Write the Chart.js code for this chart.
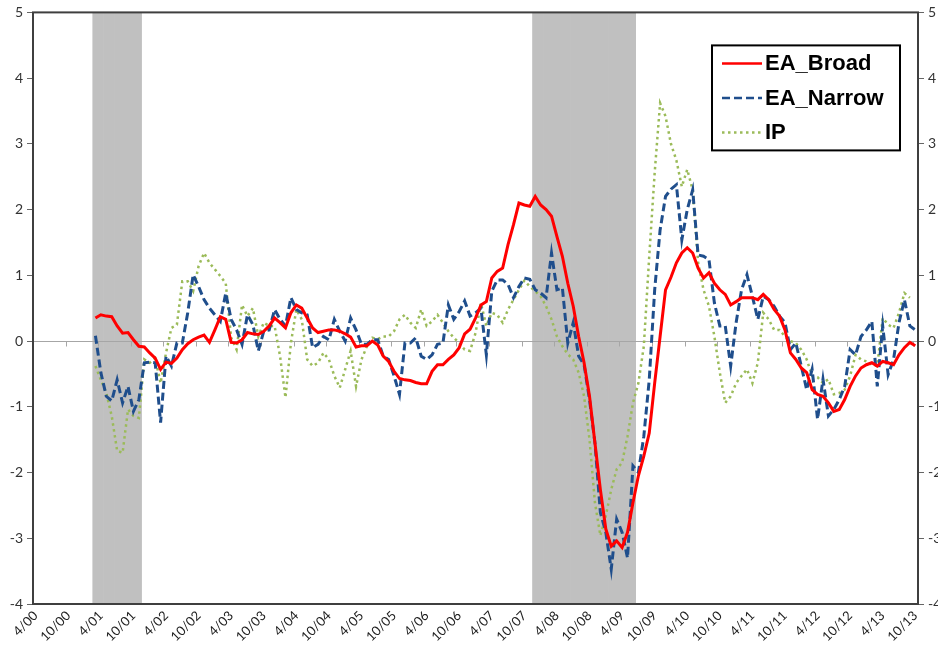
<!DOCTYPE html>
<html>
<head>
<meta charset="utf-8">
<title>EA_Broad, EA_Narrow and IP</title>
<script src="https://cdn.jsdelivr.net/npm/chart.js@4.4.1/dist/chart.umd.min.js"></script>
<style>
  html, body { margin: 0; padding: 0; background: #fff; }
  #wrap { width: 938px; height: 650px; position: relative; }
</style>
</head>
<body>
<div id="wrap"><canvas id="chart"></canvas></div>
<script>
// Data
const firstMonth = [2000, 4];   // April 2000
const monthCount = 163;         // through October 2013
const seriesStart = 11;         // all three series begin in March 2001
const labelEvery = 6;
const yMin = -4, yMax = 5;

const eaBroad = [
  0.35, 0.40, 0.38, 0.37, 0.23, 0.12, 0.13, 0.02, -0.08, -0.09,
  -0.18, -0.26, -0.43, -0.32, -0.34, -0.26, -0.13, -0.04, 0.02, 0.06,
  0.09, -0.02, 0.17, 0.37, 0.33, -0.02, -0.03, 0.02, 0.13, 0.11,
  0.10, 0.15, 0.23, 0.35, 0.28, 0.20, 0.43, 0.55, 0.50, 0.35,
  0.20, 0.13, 0.15, 0.17, 0.17, 0.15, 0.11, 0.06, -0.09, -0.07,
  -0.07, 0.00, -0.06, -0.23, -0.31, -0.46, -0.57, -0.59, -0.60, -0.63,
  -0.65, -0.65, -0.46, -0.36, -0.36, -0.28, -0.21, -0.10, 0.11, 0.18,
  0.35, 0.55, 0.60, 0.96, 1.06, 1.11, 1.47, 1.77, 2.10, 2.07,
  2.05, 2.20, 2.07, 2.00, 1.90, 1.59, 1.29, 0.88, 0.53, 0.07,
  -0.33, -0.84, -1.55, -2.26, -2.86, -3.12, -3.04, -3.14, -2.91, -2.46,
  -2.05, -1.75, -1.40, -0.64, 0.07, 0.78, 0.97, 1.19, 1.34, 1.42,
  1.34, 1.11, 0.96, 1.04, 0.88, 0.78, 0.71, 0.55, 0.60, 0.66,
  0.66, 0.66, 0.63, 0.71, 0.63, 0.48, 0.38, 0.17, -0.18, -0.28,
  -0.41, -0.48, -0.74, -0.81, -0.84, -0.94, -1.07, -1.04, -0.89, -0.69,
  -0.53, -0.41, -0.36, -0.33, -0.38, -0.31, -0.33, -0.36, -0.21, -0.10,
  -0.02, -0.07
];

const eaNarrow = [
  0.08, -0.48, -0.84, -0.91, -0.59, -0.94, -0.69, -1.07, -0.89, -0.33,
  -0.32, -0.33, -1.24, -0.23, -0.38, -0.03, -0.03, 0.43, 1.01, 0.83,
  0.63, 0.50, 0.40, 0.30, 0.73, 0.33, 0.17, -0.05, 0.40, 0.25,
  -0.15, 0.15, 0.17, 0.48, 0.33, 0.23, 0.66, 0.48, 0.43, 0.40,
  -0.10, -0.05, 0.07, 0.02, 0.33, 0.15, 0.00, 0.35, 0.17, -0.05,
  -0.05, 0.02, 0.02, -0.23, -0.28, -0.53, -0.81, -0.03, -0.03, 0.05,
  -0.23, -0.28, -0.21, -0.05, -0.03, 0.55, 0.33, 0.45, 0.61, 0.38,
  0.43, 0.50, -0.21, 0.76, 0.93, 0.93, 0.86, 0.66, 0.83, 0.96,
  0.94, 0.78, 0.73, 0.66, 1.34, 0.78, 0.81, -0.03, 0.28, -0.23,
  -0.36, -0.89, -1.55, -2.61, -2.91, -3.47, -2.71, -2.91, -3.30, -1.90,
  -2.00, -1.45, -0.59, 0.78, 1.69, 2.20, 2.31, 2.38, 1.54, 2.00,
  2.30, 1.31, 1.29, 1.24, 0.58, 0.23, 0.23, -0.38, 0.28, 0.78,
  1.01, 0.68, 0.33, 0.68, 0.63, 0.53, 0.38, 0.28, -0.13, -0.03,
  -0.38, -0.74, -0.43, -1.19, -0.58, -1.14, -1.04, -0.89, -0.69, -0.13,
  -0.21, 0.07, 0.17, 0.30, -0.69, 0.23, -0.51, -0.28, 0.28, 0.63,
  0.23, 0.17
];

const ip = [
  -0.38, -0.59, -0.79, -1.14, -1.67, -1.70, -1.04, -1.14, -1.17, -0.28,
  -0.33, -0.26, -0.64, -0.18, 0.20, 0.25, 0.91, 0.91, 0.76, 1.14,
  1.34, 1.19, 1.09, 0.99, 0.88, 0.05, -0.13, 0.55, 0.38, 0.50,
  0.07, 0.28, 0.23, 0.23, -0.23, -0.86, -0.03, 0.48, 0.33, -0.28,
  -0.38, -0.33, -0.18, -0.28, -0.53, -0.71, -0.43, -0.15, -0.69, -0.28,
  -0.08, 0.05, 0.03, 0.07, 0.07, 0.15, 0.33, 0.40, 0.28, 0.20,
  0.48, 0.23, 0.30, 0.40, 0.28, 0.15, 0.05, -0.03, -0.13, -0.15,
  0.12, 0.58, 0.23, 0.43, 0.40, 0.28, 0.48, 0.63, 0.78, 0.92,
  0.83, 0.76, 0.68, 0.53, 0.33, 0.07, -0.08, -0.20, -0.28, -0.48,
  -0.84, -1.50, -2.46, -2.96, -2.66, -2.26, -1.95, -1.85, -1.45, -0.94,
  -0.64, -0.08, 1.29, 2.56, 3.62, 3.42, 3.00, 2.75, 2.35, 2.61,
  2.30, 1.19, 0.78, 0.53, 0.07, -0.48, -0.94, -0.84, -0.64, -0.53,
  -0.43, -0.64, -0.33, 0.43, 0.33, 0.17, 0.17, 0.07, 0.00, -0.03,
  -0.13, -0.28, -0.53, -0.55, -0.64, -0.58, -0.81, -0.79, -0.74, -0.53,
  -0.21, -0.28, -0.31, -0.36, -0.38, 0.35, 0.25, 0.20, 0.43, 0.73,
  0.66
];

// shaded recessions, first and last month
const recessions = [['3/01', '11/01'], ['12/07', '6/09']];

// Month labels like "4/00"
const months = [];
for (let k = 0; k < monthCount; k++) {
  const n = firstMonth[1] - 1 + k;
  const year = firstMonth[0] + Math.floor(n / 12);
  months.push((n % 12 + 1) + '/' + String(year % 100).padStart(2, '0'));
}

function alignToMonths(values) {
  return months.map((_, i) => {
    const v = values[i - seriesStart];
    return v === undefined ? null : v;
  });
}

const recessionBars = months.map((_, i) =>
  recessions.some(([a, b]) => i >= months.indexOf(a) && i <= months.indexOf(b)) ? [yMin, yMax] : null
);

// Plugins
const zeroAxis = {
  id: 'zeroAxis',
  // drawn right after the shading so the series lines stay on top
  afterDatasetDraw(chart, args) {
    if (chart.data.datasets[args.index].type !== 'bar') return;
    const { ctx, chartArea: a, scales: { x, y } } = chart;
    const y0 = Math.round(y.getPixelForValue(0)) + 0.5;
    ctx.save();
    ctx.strokeStyle = '#a6a6a6';
    ctx.lineWidth = 1;
    ctx.beginPath();
    ctx.moveTo(a.left, y0);
    ctx.lineTo(a.right, y0);
    for (let i = labelEvery; i < months.length; i += labelEvery) {
      const px = Math.round((x.getPixelForValue(i - 1) + x.getPixelForValue(i)) / 2) + 0.5;
      ctx.moveTo(px, y0);
      ctx.lineTo(px, y0 + 5);
    }
    ctx.stroke();
    ctx.restore();
  },
  afterDraw(chart) {
    const { ctx, chartArea: a } = chart;
    ctx.save();
    ctx.strokeStyle = '#3f3f3f';
    ctx.lineWidth = 2;
    ctx.strokeRect(a.left, a.top, a.right - a.left, a.bottom - a.top);
    ctx.restore();
  }
};

const boxLegend = {
  id: 'boxLegend',
  afterDraw(chart) {
    const { ctx, chartArea: a } = chart;
    const items = chart.data.datasets.filter(d => d.type === 'line');
    const left = a.right - 206, top = a.top + 33, w = 188, h = 105;
    ctx.save();
    ctx.fillStyle = '#fff';
    ctx.fillRect(left, top, w, h);
    ctx.strokeStyle = '#000';
    ctx.lineWidth = 2;
    ctx.strokeRect(left, top, w, h);
    ctx.font = 'bold 22px "Liberation Sans", Arial, sans-serif';
    ctx.textBaseline = 'middle';
    items.forEach((d, k) => {
      const cy = top + 18 + k * 34.5;
      ctx.strokeStyle = d.borderColor;
      ctx.lineWidth = 2.5;
      ctx.setLineDash(d.borderDash || []);
      ctx.beginPath();
      ctx.moveTo(left + 10, cy);
      ctx.lineTo(left + 50, cy);
      ctx.stroke();
      ctx.setLineDash([]);
      ctx.fillStyle = '#000';
      ctx.fillText(d.label, left + 53, cy + 1);
    });
    ctx.restore();
  }
};

const axisTicks = {
  min: yMin,
  max: yMax,
  ticks: { stepSize: 1, padding: 4, color: '#333', font: { family: 'Lato', size: 14 } },
  grid: { drawOnChartArea: false, tickLength: 6, color: '#666' },
  border: { display: false }
};

new Chart(document.getElementById('chart'), {
  data: {
    labels: months,
    datasets: [
      {
        type: 'line', label: 'EA_Broad', data: alignToMonths(eaBroad),
        borderColor: '#ff0000', borderWidth: 3, pointRadius: 0, tension: 0, order: 0
      },
      {
        type: 'line', label: 'EA_Narrow', data: alignToMonths(eaNarrow),
        borderColor: '#1f4e8c', borderWidth: 3, borderDash: [8, 4], pointRadius: 0, tension: 0, order: 0
      },
      {
        type: 'line', label: 'IP', data: alignToMonths(ip),
        borderColor: '#9bbb59', borderWidth: 2.5, borderDash: [2.5, 3.5], pointRadius: 0, tension: 0, order: 0
      },
      {
        type: 'bar', label: 'Recession', data: recessionBars,
        backgroundColor: '#c0c0c0', borderWidth: 0,
        barPercentage: 1, categoryPercentage: 1, order: 1
      }
    ]
  },
  options: {
    responsive: true,
    maintainAspectRatio: false,
    animation: false,
    layout: { padding: { top: 12, left: 0, right: 0, bottom: 0 } },
    plugins: { legend: { display: false }, tooltip: { enabled: false } },
    scales: {
      x: {
        offset: true,
        afterFit(s) { s.height = 46; },
        grid: { display: false, drawTicks: false },
        border: { display: false },
        ticks: {
          autoSkip: false, maxRotation: 45, minRotation: 45, padding: 4,
          color: '#222', font: { family: 'Lato', size: 13 },
          callback(v, i) { return i % labelEvery === 0 ? months[i] : null; }
        }
      },
      y: { ...axisTicks, position: 'left', afterFit(s) { s.width = 33; } },
      y2: { ...axisTicks, position: 'right', afterFit(s) { s.width = 20; } }
    }
  },
  plugins: [zeroAxis, boxLegend]
});
</script>
</body>
</html>
